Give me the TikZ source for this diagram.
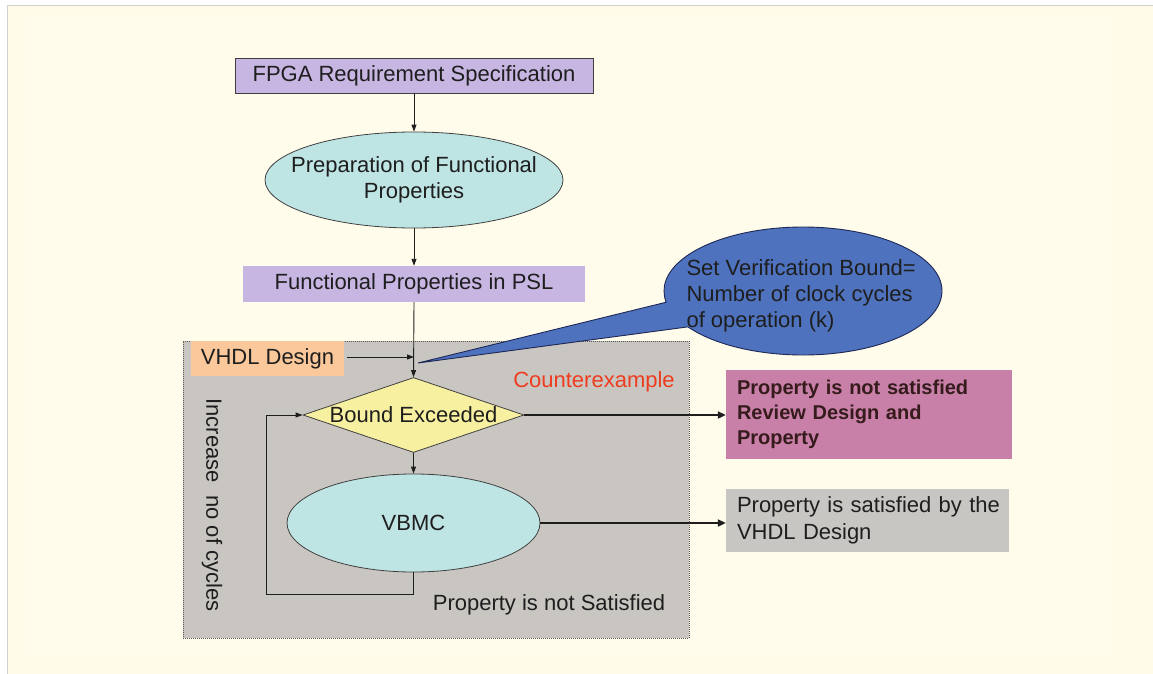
\documentclass[tikz,border=0pt]{standalone}
\usepackage{fontspec}
\setmainfont{Liberation Sans}
\usetikzlibrary{shapes.geometric,shapes.callouts,arrows.meta}
\definecolor{cream}{RGB}{255,249,232}
\definecolor{creamin}{RGB}{255,252,235}
\definecolor{lav}{RGB}{199,182,226}
\definecolor{cyanl}{RGB}{190,229,228}
\definecolor{regiongray}{RGB}{201,198,194}
\definecolor{peach}{RGB}{250,200,155}
\definecolor{yel}{RGB}{247,240,160}
\definecolor{calloutblue}{RGB}{78,114,190}
\definecolor{pinkbox}{RGB}{200,128,168}
\definecolor{boxgray}{RGB}{200,198,194}
\definecolor{cred}{RGB}{238,60,30}
\definecolor{ink}{RGB}{30,30,30}
\definecolor{navy}{RGB}{30,40,85}
\begin{document}
\begin{tikzpicture}[x=1pt,y=-1pt,
  every node/.style={font=\fontsize{22}{26}\selectfont, text=ink},
  rectbox/.style={rectangle, inner sep=0pt, anchor=center},
  ell/.style={ellipse, draw=ink!85, line width=0.8pt, fill=cyanl, inner sep=0pt},
  arr/.style={draw=ink, line width=0.9pt, -{Triangle[length=7pt,width=5pt]}},
  thickarr/.style={draw=ink, line width=2.4pt, -{Triangle[length=8pt,width=7pt]}}
]
\useasboundingbox (0,0) rectangle (1153,674);
% background
\fill[white] (0,0) rectangle (1153,674);
\fill[cream] (7,6) rectangle (1153,674);
\fill[creamin] (25,16) rectangle (1113,657);
\draw[black!18, line width=1pt] (7,674) -- (7,6) -- (1153,6);

% shaded region
\node[rectbox, fill=regiongray, draw=ink!75, line width=0.8pt, dash pattern=on 1pt off 1pt,
      minimum width=506pt, minimum height=297pt] (region) at (436,489.5) {};

% top chain
\node[rectbox, fill=lav, draw=ink!85, line width=0.8pt, minimum width=358pt, minimum height=35pt] (fpga) at (414,75.5) {FPGA Requirement Specification};
\node[ell, minimum width=298pt, minimum height=96pt] (prep) at (414,180) {};
\node[align=center] (preptxt) at (prep.center) {Preparation of Functional\\Properties};
\node[rectbox, fill=lav, minimum width=342pt, minimum height=36pt] (psl) at (414,284) {Functional Properties in PSL};

% VHDL design
\node[rectbox, fill=peach, minimum width=153pt, minimum height=35pt] (vhdl) at (267.5,358.5) {VHDL Design};
\coordinate (j) at (414,357);

% diamond
\node[diamond, draw=ink!85, line width=0.8pt, fill=yel, inner sep=0pt, minimum width=221pt, minimum height=75pt] (be) at (413.5,415) {};
\node (betxt) at (be.center) {Bound Exceeded};

% VBMC
\node[ell, minimum width=253pt, minimum height=98pt] (vbmc) at (413.5,523) {VBMC};

% callout
\coordinate (tip) at (418,363);
\node[ellipse callout, draw=navy, line width=0.9pt, fill=calloutblue, inner sep=0pt,
      minimum width=278pt, minimum height=128pt, callout absolute pointer=(tip), callout pointer arc=24] (call) at (803,291) {};
\node[anchor=west, align=left] (calltxt) at (683,296) {Set Verification Bound=\\Number of clock cycles\\of operation (k)};

% result boxes
\node[rectbox, fill=pinkbox, minimum width=286pt, minimum height=89pt, inner xsep=11pt, text width=264pt, align=left,
      font=\fontsize{20}{25}\selectfont\bfseries, text=ink!90!red] (pink) at (869,414.5) {Property is not satisfied\\Review Design and\\Property};
\node[rectbox, fill=boxgray, minimum width=283pt, minimum height=63pt, inner xsep=11pt, text width=261pt, align=left,
      font=\fontsize{22}{27}\selectfont] (sat) at (867.5,520.5) {\mbox{Property is satisfied by the}\\VHDL Design};

% labels
\node[text=cred] (cex) at (594,382) {Counterexample};
\node (notsat) at (549,605) {Property is not Satisfied};
\node[rotate=-90] (inc) at (212,505) {Increase\ \ no of cycles};

% connectors
\draw[arr] (fpga) -- (prep);
\draw[arr] (prep) -- (psl);
\draw[arr] (psl.south) -- (be.north);
\draw[arr, shorten <=3pt] (vhdl.east |- j) -- (j);
\draw[arr] (be.south) -- (vbmc.north);
\draw[thickarr] (be.east) -- (be.east -| pink.west);
\draw[thickarr] (vbmc.east) -- (vbmc.east -| sat.west);
\coordinate (lc) at (266,594);
\draw[arr] (vbmc.south) |- (lc) |- (be.west);
\end{tikzpicture}
\end{document}
